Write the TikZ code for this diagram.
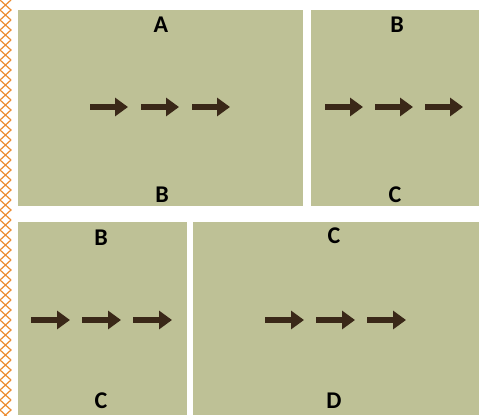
\documentclass[tikz,border=0pt]{standalone}
\usepackage{fontspec}
\newfontfamily\panelfont{Carlito}
\usetikzlibrary{arrows.meta}
\definecolor{panelgreen}{RGB}{190,193,150}
\definecolor{arrowbrown}{RGB}{58,40,24}
\definecolor{zigorange}{RGB}{236,140,48}
\tikzset{
    panel/.style={fill=panelgreen, draw=none},
    flow/.style={draw=arrowbrown, line width=6.5pt, -{Triangle[length=13pt,width=18pt]}},
    letter/.style={font=\panelfont\bfseries\fontsize{24}{24}\selectfont, inner sep=0pt}
}

\begin{document}
\begin{tikzpicture}[x=1pt,y=-1pt]

    \useasboundingbox[fill=white] (0,0) rectangle (486,415);

    % border:
    \begin{scope}
    \clip (0,0) rectangle (14,415);
    \foreach \y in {-20,0,...,420} {
        \draw[zigorange, line width=1.2pt] (0,\y) -- (11,\y+10) -- (0,\y+20);
        \draw[zigorange, line width=1.2pt] (11,\y) -- (0,\y+10) -- (11,\y+20);
    }
    \end{scope}

    % panels:
    \fill[panel] (18,10) rectangle (303,206);
    \fill[panel] (311,10) rectangle (479,206);
    \fill[panel] (18,222) rectangle (187,415);
    \fill[panel] (193,222) rectangle (479,415);

    % 1
    \node[letter] (topA) at (161,25) {A};
    \node[letter] (botB) at (162,195) {B};
    \draw[flow] (90,107) -- (128,107);
    \draw[flow] (141,107) -- (179,107);
    \draw[flow] (192,107) -- (230,107);

    % 2
    \node[letter] (topB) at (397,25) {B};
    \node[letter] (botC) at (395,195) {C};
    \draw[flow] (325,107) -- (363,107);
    \draw[flow] (375,107) -- (413,107);
    \draw[flow] (425,107) -- (463,107);

    % 3
    \node[letter] (lowB) at (101,238) {B};
    \node[letter] (lowC) at (101,401) {C};
    \draw[flow] (31,320) -- (70,320);
    \draw[flow] (82,320) -- (121,320);
    \draw[flow] (133,320) -- (172,320);

    % 4
    \node[letter] (lastC) at (334,236) {C};
    \node[letter] (lastD) at (334,401) {D};
    \draw[flow] (265,320) -- (304,320);
    \draw[flow] (316,320) -- (355,320);
    \draw[flow] (367,320) -- (406,320);

\end{tikzpicture}
\end{document}
